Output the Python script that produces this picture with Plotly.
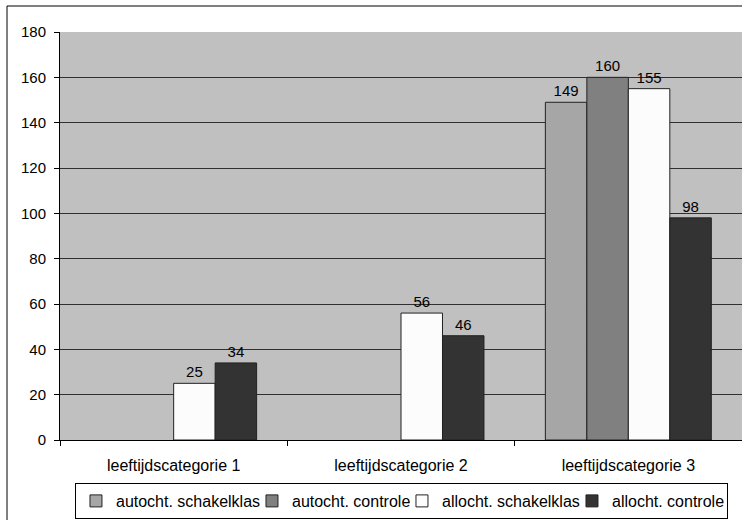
import plotly.graph_objects as go

categories = ["leeftijdscategorie 1", "leeftijdscategorie 2", "leeftijdscategorie 3"]
series_names = ["autocht. schakelklas", "autocht. controle", "allocht. schakelklas", "allocht. controle"]
autocht_schakelklas = [None, None, 149]
autocht_controle = [None, None, 160]
allocht_schakelklas = [25, 56, 155]
allocht_controle = [34, 46, 98]
colors = ["#A6A6A6", "#808080", "#FCFCFC", "#333333"]
y_ticks = [0, 20, 40, 60, 80, 100, 120, 140, 160, 180]

values = [autocht_schakelklas, autocht_controle, allocht_schakelklas, allocht_controle]

FONT = "Liberation Sans, Arial, sans-serif"
FS_NUM = 15
FS_TXT = 16
legend_widths = [131, 105, 125, 110]

fig = go.Figure()
for name, vals, col, lw in zip(series_names, values, colors, legend_widths):
    fig.add_trace(go.Bar(
        x=categories, y=vals, name=name,
        marker=dict(color=col, line=dict(color="#222222", width=1)),
        text=[("" if v is None else str(v)) for v in vals],
        textposition="outside", cliponaxis=False,
        textfont=dict(family=FONT, size=FS_NUM, color="black"),
        legendwidth=lw,
    ))

W, H = 742, 520
ml, mr, mt, mb = 60, 0, 32, 80
pw, ph = W - ml - mr, H - mt - mb

fig.update_layout(
    width=W, height=H,
    margin=dict(l=ml, r=mr, t=mt, b=mb, pad=0),
    barmode="group", bargap=0.27, bargroupgap=0,
    plot_bgcolor="#C0C0C0", paper_bgcolor="white",
    font=dict(family=FONT, size=FS_NUM, color="black"),
    showlegend=True,
    legend=dict(
        orientation="h", x=0.5007, xanchor="center",
        y=(H - mb - 519) / ph, yanchor="bottom",
        bordercolor="black", borderwidth=1, bgcolor="white",
        font=dict(family=FONT, size=FS_TXT, color="black"),
        traceorder="normal", itemwidth=30,
        tracegroupgap=0,
    ),
    xaxis=dict(
        showline=True, linecolor="black", linewidth=1,
        ticks="outside", tickson="boundaries", ticklen=5, tickcolor="black",
        showgrid=False, tickfont=dict(size=FS_TXT, color="black"),
        ticklabelstandoff=11,
    ),
    yaxis=dict(
        range=[0, 180], tickvals=y_ticks,
        showline=True, linecolor="black", linewidth=1,
        ticks="outside", ticklen=5, tickcolor="black",
        showgrid=True, gridcolor="#303030", gridwidth=1,
        zeroline=False, tickfont=dict(size=FS_NUM, color="black"),
        ticklabelstandoff=5,
    ),
    shapes=[dict(
        type="rect", xref="paper", yref="paper",
        x0=(7 - ml) / pw, x1=(W + 10 - ml) / pw,
        y0=(H - mb - (H + 10)) / ph, y1=(H - mb - 6) / ph,
        line=dict(color="black", width=1), fillcolor="rgba(0,0,0,0)",
        layer="above",
    )],
)

fig.write_html(
    "out.html",
    config={"displayModeBar": False},
    post_script="document.body.style.margin='0';document.body.style.overflow='hidden';",
)
